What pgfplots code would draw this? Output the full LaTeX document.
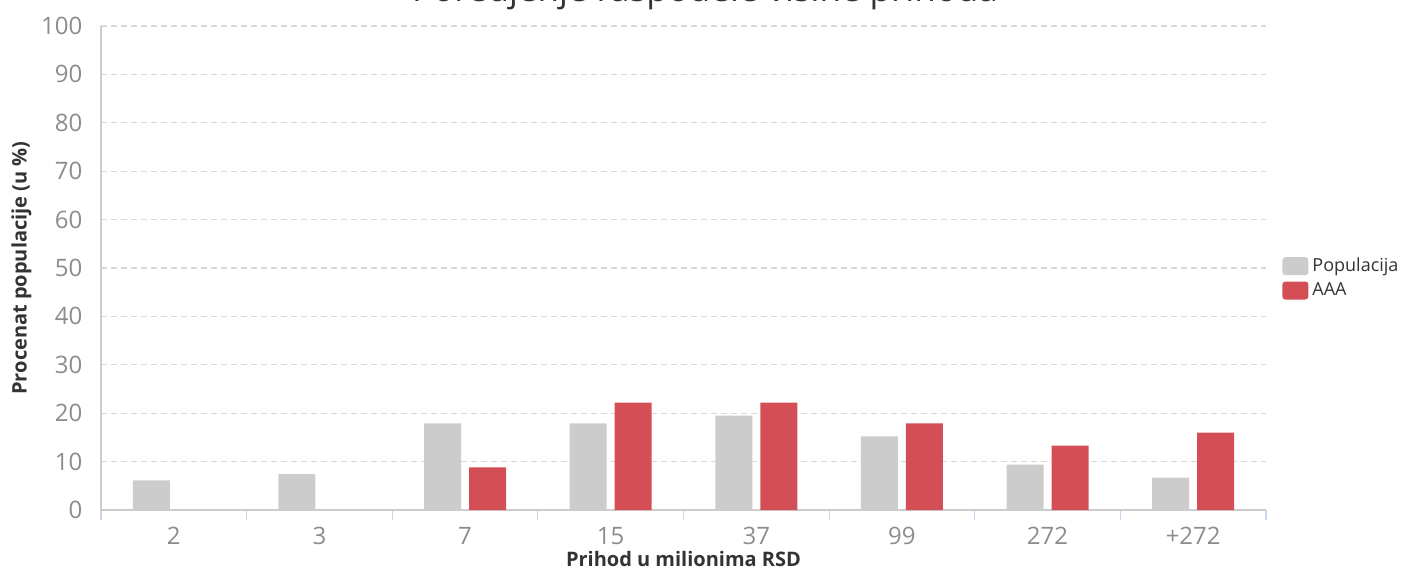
\documentclass[border=0pt]{standalone}
\usepackage{fontspec}
\setmainfont{Open Sans}
\usepackage{pgfplots}
\pgfplotsset{compat=1.18}

\definecolor{popgray}{HTML}{CCCCCC}
\definecolor{aaared}{HTML}{D44F55}
\definecolor{gridgray}{HTML}{D8D8D8}
\definecolor{axisgray}{HTML}{CCCCCC}
\definecolor{tickblue}{HTML}{CCD6EB}
\definecolor{labelgray}{HTML}{8C8C8C}
\definecolor{textdark}{HTML}{333333}

\begin{document}
\begin{tikzpicture}
\begin{axis}[
    scale only axis,
    width=582.5pt,
    height=242pt,
    ybar=4pt,
    bar width=18.5pt,
    xmin=-0.5, xmax=7.5,
    ymin=0, ymax=100,
    ytick={0,10,...,100},
    xtick={0,...,7},
    xticklabels={2,3,7,15,37,99,272,+272},
    minor xtick={-0.5,0.5,...,7.5},
    major x tick style={draw=none},
    minor x tick style={draw=tickblue, line width=0.6pt},
    minor tick length=5pt,
    tick align=outside,
    ytick style={draw=none},
    axis lines*=left,
    axis line style={draw=axisgray, line width=0.6pt, -},
    ymajorgrids,
    grid style={dashed, dash pattern=on 3pt off 2pt, draw=gridgray, line width=0.6pt},
    minor grid style={draw=none},
    tick label style={font=\fontsize{12}{14}\selectfont, text=labelgray},
    /pgf/number format/assume math mode=true,
    yticklabel style={xshift=-1.5pt},
    xticklabel style={yshift=-1pt},
    xlabel={Prihod u milionima RSD},
    ylabel={Procenat populacije (u \%)},
    label style={font=\fontsize{10}{12}\selectfont\bfseries, text=textdark},
    xlabel style={yshift=4pt},
    ylabel style={yshift=-2pt},
    title={Poredjenje raspodele visine prihoda},
    title style={font=\fontsize{17.5}{20}\selectfont, text=textdark,
        at={(axis description cs:0.5,1)}, anchor=base, xshift=10.75pt, yshift=6pt},
    legend style={
        at={([xshift=5pt]axis description cs:1,0.479)}, anchor=west,
        draw=none, fill=none,
        font=\fontsize{9}{11}\selectfont, text=textdark,
        row sep=1pt,
        nodes={inner xsep=2pt, inner ysep=1.5pt},
    },
    legend cell align=left,
]
\addplot[fill=popgray, draw=none, area legend,
    legend image code/.code={\fill[popgray, rounded corners=1.5pt] (0pt,-4.5pt) rectangle (13pt,4.5pt);}]
coordinates {
    (0, 6.1) (1, 7.4) (2, 17.9) (3, 17.9) (4, 19.5) (5, 15.2) (6, 9.4) (7, 6.7)
};
\addplot[fill=aaared, draw=none, area legend,
    legend image code/.code={\fill[aaared, rounded corners=1.5pt] (0pt,-4.5pt) rectangle (13pt,4.5pt);}]
coordinates {
    (2, 8.8) (3, 22.2) (4, 22.2) (5, 17.9) (6, 13.3) (7, 16.0)
};
\legend{Populacija, AAA}
\end{axis}
\pgfresetboundingbox
\path[use as bounding box]
    ([shift={(-50.5pt,-29.5pt)}]current axis.south west)
    rectangle ([shift={(74.5pt,13pt)}]current axis.north east);
\end{tikzpicture}
\end{document}
